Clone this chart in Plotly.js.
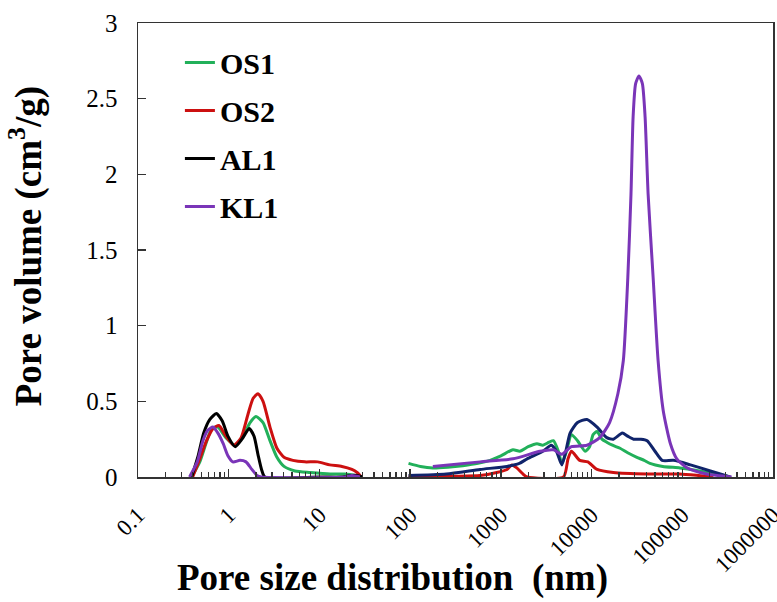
<!DOCTYPE html>
<html>
<head>
<meta charset="utf-8">
<script src="https://cdn.plot.ly/plotly-3.0.1.min.js"></script>
<style>html,body{margin:0;padding:0;background:#fff;}#chart{width:777px;height:602px;}</style>
</head>
<body>
<div id="chart"></div>
<script>
// Pore size (nm) and pore volume (cm3/g); null separates the micro and macro parts
var os1X = [0.39,0.48,0.56,0.65,0.76,0.93,1.18,1.44,1.72,2.0,2.39,2.85,3.4,4.07,5.37,7.9,13.1,19,24.7,28,
  null,
  96,130,178,260,380,560,760,1000,1360,1620,2000,2500,2900,3400,3800,4300,4700,5300,6000,7000,8500,9500,10400,11500,13000,14700,17000,20600,25000,31600,38000,44000,61000,94000,140000,186000,260000,337000];
var os1Y = [0,0.10,0.22,0.32,0.33,0.26,0.21,0.27,0.36,0.40,0.36,0.24,0.13,0.07,0.04,0.03,0.02,0.02,0.01,0,
  null,
  0.09,0.07,0.06,0.065,0.075,0.09,0.11,0.14,0.18,0.17,0.20,0.22,0.21,0.23,0.24,0.17,0.09,0.17,0.28,0.24,0.17,0.20,0.28,0.30,0.25,0.23,0.21,0.19,0.16,0.13,0.11,0.09,0.07,0.06,0.045,0.03,0.015,0];

var os2X = [0.40,0.48,0.57,0.67,0.78,0.93,1.14,1.37,1.64,1.86,2.1,2.39,2.85,3.4,4.07,5.1,6.9,9.6,13,17.7,22.8,26,29,
  null,
  96,300,590,900,1170,1320,1500,1750,1950,4900,5500,6000,7400,9100,11500,17400,41000,94000,150000,220000];
var os2Y = [0,0.12,0.24,0.32,0.34,0.27,0.21,0.26,0.42,0.52,0.55,0.50,0.33,0.19,0.13,0.11,0.10,0.10,0.08,0.07,0.05,0.03,0,
  null,
  0,0.005,0.01,0.03,0.05,0.08,0.06,0.02,0,0,0.12,0.17,0.11,0.10,0.05,0.03,0.02,0.02,0.01,0];

var al1X = [0.39,0.46,0.53,0.62,0.73,0.85,0.98,1.18,1.40,1.68,1.90,2.1,2.3,2.5,10,18,22,26,30];
var al1Y = [0,0.14,0.29,0.38,0.42,0.37,0.27,0.20,0.25,0.32,0.27,0.15,0.05,0,0,0,0.01,0.01,0];

var al1MacroX = [96,250,590,1170,1600,1950,2900,3600,4100,4700,5200,5800,7000,8900,11500,14700,17400,21800,25000,29000,35000,41000,50000,60000,80000,123000,204000,337000];
var al1MacroY = [0.01,0.02,0.05,0.07,0.09,0.12,0.17,0.21,0.17,0.08,0.17,0.29,0.36,0.38,0.33,0.26,0.25,0.29,0.27,0.25,0.25,0.24,0.17,0.11,0.11,0.08,0.04,0];

var kl1X = [0.37,0.45,0.52,0.59,0.67,0.76,0.87,0.98,1.11,1.33,1.55,1.80,2.05,2.3,19,22.8,28,
  null,
  178,590,1360,2700,3800,4700,6000,8900,12300,15800,19500,22400,25100,27200,28700,30600,33300,36300,38900,42000,47700,54100,61600,74000,87000,113000,186000,350000];
var kl1Y = [0,0.10,0.24,0.31,0.33,0.29,0.22,0.14,0.10,0.11,0.10,0.05,0.01,0,0,0.01,0,
  null,
  0.07,0.10,0.12,0.17,0.18,0.15,0.20,0.21,0.26,0.36,0.55,0.77,1.32,1.87,2.38,2.60,2.65,2.60,2.38,1.87,1.32,0.77,0.44,0.22,0.12,0.06,0.02,0];

var seriesNames = ['OS1','OS2','AL1','KL1'];
var tickVals = [0.1,1,10,100,1000,10000,100000,1000000];
var tickText = ['0.1','1','10','100','1000','10000','100000','1000000'];
var xTitle = 'Pore size distribution\u00a0 (nm)';
var yTitle = 'Pore volume (cm<sup>3</sup>/g)';

var serif = '"Liberation Serif", "Times New Roman", serif';
function tr(x, y, name, color, group, showlegend) {
  return {x: x, y: y, name: name, type: 'scatter', mode: 'lines',
    line: {color: color, width: 3, shape: 'spline', smoothing: 0.6},
    connectgaps: false, legendgroup: group, showlegend: showlegend};
}
var data = [
  tr(os1X, os1Y, seriesNames[0], '#22b05a', 'g1', true),
  tr(os2X, os2Y, seriesNames[1], '#cc1010', 'g2', true),
  tr(al1X, al1Y, seriesNames[2], '#000000', 'g3', true),
  tr(al1MacroX, al1MacroY, seriesNames[2], '#10246b', 'g3', false),
  tr(kl1X, kl1Y, seriesNames[3], '#7a35b8', 'g4', true)
];

var layout = {
  width: 777, height: 602,
  margin: {l: 138, r: 4, t: 23, b: 125},
  paper_bgcolor: '#fff', plot_bgcolor: '#fff',
  font: {family: serif, color: '#000'},
  showlegend: true,
  legend: {x: 0.066, y: 0.97, xanchor: 'left', yanchor: 'top',
    font: {family: serif, size: 30, color: '#000', weight: 'bold'},
    bgcolor: 'rgba(0,0,0,0)', tracegroupgap: 6, itemwidth: 30},
  xaxis: {type: 'log', range: [-1, 6], tickvals: tickVals, ticktext: tickText,
    tickangle: -45, tickfont: {family: serif, size: 23},
    ticklabeloverflow: 'allow', ticklabelstandoff: 14,
    ticks: 'inside', ticklen: 8, tickcolor: '#333', tickwidth: 1.3,
    minor: {ticks: 'inside', ticklen: 5, dtick: 'D1', tickcolor: '#333', tickwidth: 1.3},
    showline: true, linecolor: '#333', linewidth: 1.5, mirror: true,
    showgrid: false, zeroline: false},
  yaxis: {range: [0, 3], dtick: 0.5, tickfont: {family: serif, size: 25},
    ticklabelstandoff: 14,
    ticks: 'inside', ticklen: 8, tickcolor: '#333', tickwidth: 1.3,
    showline: true, linecolor: '#333', linewidth: 1.5, mirror: true,
    showgrid: false, zeroline: false},
  annotations: [
    {text: xTitle, xref: 'paper', yref: 'paper', x: 0.40, y: -0.222,
      xanchor: 'center', yanchor: 'middle', showarrow: false,
      font: {family: serif, size: 37, weight: 'bold', color: '#000'}},
    {text: yTitle, xref: 'paper', yref: 'paper', x: -0.175, y: 0.51,
      xanchor: 'center', yanchor: 'middle', showarrow: false, textangle: -90,
      font: {family: serif, size: 37, weight: 'bold', color: '#000'}}
  ]
};

Plotly.newPlot('chart', data, layout, {displayModeBar: false, staticPlot: true});
</script>
</body>
</html>
